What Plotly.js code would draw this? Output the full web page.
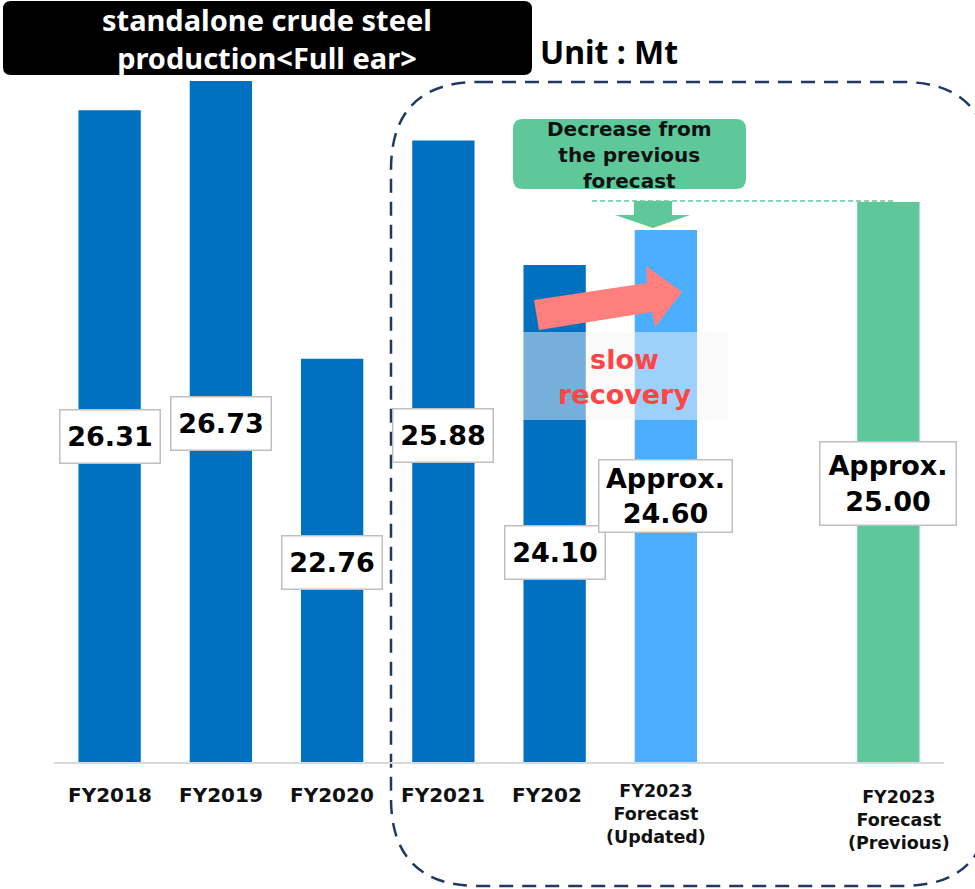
<!DOCTYPE html>
<html>
<head>
<meta charset="utf-8">
<script src="https://cdn.plot.ly/plotly-3.0.1.min.js"></script>
<style>
  html, body { margin: 0; padding: 0; background: #ffffff; }
  #chart { width: 975px; height: 889px; }
</style>
</head>
<body>
<div id="chart"></div>
<script>
// ---------- data ----------
const categories = ['FY2018', 'FY2019', 'FY2020', 'FY2021', 'FY202', 'FY2023 Forecast (Updated)', 'FY2023 Forecast (Previous)'];
const slots = [0, 1, 2, 3, 4, 5, 7];
const values = [26.31, 26.73, 22.76, 25.88, 24.10, 24.60, 25.00];
const valueLabels = ['26.31', '26.73', '22.76', '25.88', '24.10', 'Approx.<br>24.60', 'Approx.<br>25.00'];
const tickLabels = ['FY2018', 'FY2019', 'FY2020', 'FY2021', 'FY202', 'FY2023<br>Forecast<br>(Updated)', 'FY2023<br>Forecast<br>(Previous)'];
const titleText = 'standalone crude steel<br>production&lt;Full ear&gt;';
const unitText = 'Unit : Mt';
const calloutText = 'Decrease from<br>the previous<br>forecast';
const noteText = 'slow<br>recovery';

// ---------- style / layout ----------
const barColors = ['#0070c0', '#0070c0', '#0070c0', '#0070c0', '#0070c0', '#4baeff', '#5fc89b'];
const W = 975, H = 889;
const M = { l: 54, r: 31, t: 10, b: 127 };
const PW = W - M.l - M.r, PH = H - M.t - M.b;
const yBase = 17, pxPerUnit = 70;
const px = p => (p - M.l) / PW;
const py = p => (H - M.b - p) / PH;

// label box placement (pixels): center y, width, height
const boxCy = [437, 423, 562, 436, 552, 496, 484];
const boxW = [99, 99, 99, 99, 99, 132, 135];
const boxH = [52, 52, 52, 52, 52, 71, 82];
const tickTop = [781, 781, 781, 781, 781, 779, 785];
const tickShift = [0, 0, 0, 0, -8, -10, 11];
const tickSize = [20, 20, 20, 20, 20, 17.5, 17.5];

function roundRect(x0, y0, x1, y1, r) {
  const P = (x, y) => px(x).toFixed(5) + ',' + py(y).toFixed(5);
  return 'M' + P(x0 + r, y0) + ' L' + P(x1 - r, y0) + ' Q' + P(x1, y0) + ' ' + P(x1, y0 + r) +
    ' L' + P(x1, y1 - r) + ' Q' + P(x1, y1) + ' ' + P(x1 - r, y1) +
    ' L' + P(x0 + r, y1) + ' Q' + P(x0, y1) + ' ' + P(x0, y1 - r) +
    ' L' + P(x0, y0 + r) + ' Q' + P(x0, y0) + ' ' + P(x0 + r, y0) + ' Z';
}
function poly(pts) {
  return 'M' + pts.map(p => px(p[0]).toFixed(5) + ',' + py(p[1]).toFixed(5)).join(' L') + ' Z';
}

const trace = {
  type: 'bar',
  x: slots,
  y: values.map(v => v - yBase),
  base: yBase,
  width: 0.56,
  marker: { color: barColors, line: { width: 0 } },
  hoverinfo: 'skip',
  text: categories,
  textposition: 'none'
};

const shapes = [
  // title box
  { type: 'path', xref: 'paper', yref: 'paper', path: roundRect(3, 1, 532, 75, 8),
    fillcolor: '#000000', line: { width: 0 }, layer: 'above' },
  // dashed rounded frame
  { type: 'path', xref: 'paper', yref: 'paper', path: roundRect(391, 82, 990, 886, 88),
    fillcolor: 'rgba(0,0,0,0)', line: { color: '#1f3864', width: 2.5, dash: '14px,9px' }, layer: 'below' },
  // green callout box
  { type: 'path', xref: 'paper', yref: 'paper', path: roundRect(513, 119, 746, 189, 10),
    fillcolor: '#5fc89b', line: { width: 0 }, layer: 'above' },
  // green dashed level line
  { type: 'line', xref: 'paper', yref: 'paper', x0: px(592), x1: px(895), y0: py(201), y1: py(201),
    line: { color: '#5fc89b', width: 1.5, dash: '5px,3px' }, layer: 'above' },
  // green down arrow
  { type: 'path', xref: 'paper', yref: 'paper',
    path: poly([[634, 201], [672, 201], [672, 215], [690, 215], [653, 228], [615, 215], [634, 215]]),
    fillcolor: '#5fc89b', line: { width: 0 }, layer: 'above' },
  // pink arrow
  { type: 'path', xref: 'paper', yref: 'paper',
    path: poly([[534, 300], [647, 283], [646, 266], [682, 292], [655, 327], [652, 312], [539, 330]]),
    fillcolor: '#ff7f7f', line: { width: 0 }, layer: 'above' },
  // translucent panel
  { type: 'rect', xref: 'paper', yref: 'paper', x0: px(520), x1: px(728), y0: py(420), y1: py(332),
    fillcolor: 'rgba(247,247,247,0.48)', line: { width: 0 }, layer: 'above' }
];

const annotations = [];
annotations.push({ xref: 'paper', yref: 'paper', x: px(267), y: py(38), xanchor: 'center', yanchor: 'middle',
  text: titleText, showarrow: false, font: { family: 'Noto Sans', size: 29, color: '#ffffff', weight: 'bold' } });
annotations.push({ xref: 'paper', yref: 'paper', x: px(538), y: py(52), xanchor: 'left', yanchor: 'middle',
  text: unitText, showarrow: false, font: { family: 'Noto Sans', size: 32, color: '#000000', weight: 'bold' } });
annotations.push({ xref: 'paper', yref: 'paper', x: px(629), y: py(155), xanchor: 'center', yanchor: 'middle',
  text: calloutText, showarrow: false, font: { family: 'DejaVu Sans', size: 20, color: '#111111', weight: 'bold' } });
annotations.push({ xref: 'paper', yref: 'paper', x: px(624), y: py(377), xanchor: 'center', yanchor: 'middle',
  text: noteText, showarrow: false, font: { family: 'DejaVu Sans', size: 27, color: '#ff4545', weight: 'bold' } });

for (let i = 0; i < slots.length; i++) {
  annotations.push({ xref: 'x', yref: 'paper', x: slots[i], y: py(tickTop[i]), xanchor: 'center', yanchor: 'top',
    xshift: tickShift[i], text: tickLabels[i], showarrow: false, align: 'center',
    font: { family: 'DejaVu Sans', size: tickSize[i], color: '#111111', weight: 'bold' } });
}
for (let i = 0; i < slots.length; i++) {
  annotations.push({ xref: 'x', yref: 'paper', x: slots[i], y: py(boxCy[i]), xanchor: 'center', yanchor: 'middle',
    text: valueLabels[i], showarrow: false, align: 'center',
    width: boxW[i], height: boxH[i], bgcolor: '#ffffff', bordercolor: '#bfbfbf', borderwidth: 1.5, borderpad: 0,
    font: { family: 'DejaVu Sans', size: 27, color: '#000000', weight: 'bold' } });
}

const layout = {
  width: W, height: H,
  margin: M,
  paper_bgcolor: '#ffffff', plot_bgcolor: 'rgba(0,0,0,0)',
  showlegend: false,
  xaxis: { range: [-0.5, 7.5], showgrid: false, zeroline: false, showticklabels: false, ticks: '',
    showline: true, linecolor: '#d9d9d9', linewidth: 2, fixedrange: true },
  yaxis: { range: [yBase, yBase + PH / pxPerUnit], visible: false, fixedrange: true },
  shapes: shapes,
  annotations: annotations
};

Plotly.newPlot('chart', [trace], layout, { staticPlot: true, displayModeBar: false });
</script>
</body>
</html>
